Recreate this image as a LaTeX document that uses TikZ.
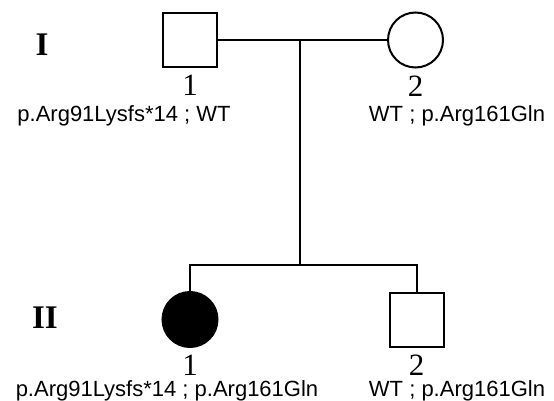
\documentclass[tikz,border=0pt]{standalone}
\usepackage{fontspec}
\setmainfont{Liberation Serif}
\setsansfont{Liberation Sans}
\usepackage{tikz}
\usetikzlibrary{positioning}
\tikzset{
  male/.style={rectangle, draw=black, line width=2pt, minimum size=54pt, inner sep=0pt},
  female/.style={circle, draw=black, line width=2pt, minimum size=55pt, inner sep=0pt},
  affected/.style={fill=black},
  gen/.style={font=\fontsize{33}{33}\selectfont\bfseries, inner sep=0pt},
  num/.style={font=\fontsize{31}{31}\selectfont, inner sep=0pt},
  geno/.style={font=\fontsize{22}{22}\selectfont\sffamily, inner sep=0pt},
  pline/.style={line width=2pt},
}

\begin{document}
\begin{tikzpicture}[x=1pt, y=-1pt]
\useasboundingbox (0,0) rectangle (554,401);
% generation I
\node[gen] (genI) at (42,45) {I};
\node[male] (I1) at (190,40) {};
\node[female, right=169pt of I1] (I2) {};
\node[num, below=7pt of I1] (nI1) {1};
\node[num, below=7pt of I2] (nI2) {2};
\node[geno] (gI1) at (124,116) {p.Arg91Lysfs*14 ; WT};
\node[geno] (gI2) at (457,116) {WT ; p.Arg161Gln};
% generation II
\node[gen] (genII) at (45,318) {II};
\node[female, affected, below=223pt of I1] (II1) {};
\node[male, right=170pt of II1] (II2) {};
\node[num, below=7pt of II1] (nII1) {1};
\node[num, below=7pt of II2] (nII2) {2};
\node[geno] (gII1) at (167,391) {p.Arg91Lysfs*14 ; p.Arg161Gln};
\node[geno] (gII2) at (457,391) {WT ; p.Arg161Gln};
% lines
\coordinate (mate) at (300,40);
\coordinate (sib) at (300,265);
\draw[pline] (I1) -- (I2);
\draw[pline] (mate) -- (sib);
\draw[pline] (II1) |- (sib) -| (II2);
\end{tikzpicture}
\end{document}
